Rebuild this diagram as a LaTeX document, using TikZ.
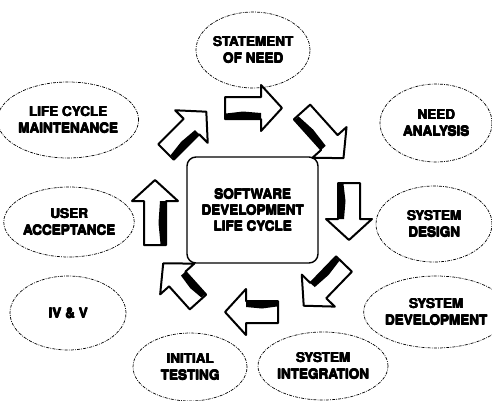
\documentclass[tikz,border=0pt]{standalone}
\usepackage{fontspec}
\usetikzlibrary{shapes.geometric}
\newfontfamily\heavy{TeX Gyre Heros}
% darken a line of bold lettering by overprinting it with small offsets
\newcommand\hv[1]{\leavevmode
  \rlap{\kern0.5pt#1}\rlap{\raise0.45pt\hbox{#1}}%
  \rlap{\kern0.5pt\raise0.45pt\hbox{#1}}#1}
\tikzset{
  phase/.style={ellipse, draw=black, line width=0.7pt,
    dash pattern=on 3pt off 1.2pt on 0.8pt off 1.2pt,
    inner sep=0pt, align=center,
    font=\heavy\bfseries\fontsize{13.5}{16.5}\selectfont},
  hub/.style={draw=black, line width=1.4pt, rounded corners=9pt,
    minimum width=131pt, minimum height=106pt, inner sep=0pt, align=center,
    font=\heavy\bfseries\fontsize{13.5}{16}\selectfont},
  pics/blockarrow/.style={code={
    \pgfmathsetmacro\shaftend{#1-21}
    \draw[fill=white, line width=2pt, line join=round]
      (0,-11) -- (\shaftend,-11) -- (\shaftend,-23) -- (#1,0)
      -- (\shaftend,23) -- (\shaftend,11) -- (0,11) -- cycle;
    \fill[black] (1,11) -- (\shaftend,11) -- (\shaftend,5)
      -- (0.5*\shaftend,3.5) -- (1,5.5) -- cycle;
  }}
}
\begin{document}
\begin{tikzpicture}[x=1pt, y=-1pt]
  \useasboundingbox (0,0) rectangle (492,400);

  % central box
  \node[hub] (sdlc) at (252.5,210) {\hv{SOFTWARE}\\\hv{DEVELOPMENT}\\\hv{LIFE CYCLE}};

  % phases around the cycle
  \node[phase, minimum width=114pt, minimum height=76pt] (need)   at (253,50)  {\hv{STATEMENT}\\\hv{OF NEED}};
  \node[phase, minimum width=112pt, minimum height=78pt] (anal)   at (436,123) {\hv{NEED}\\\hv{ANALYSIS}};
  \node[phase, minimum width=116pt, minimum height=76pt] (design) at (434,224) {\hv{SYSTEM}\\\hv{DESIGN}};
  \node[phase, minimum width=112pt, minimum height=72pt] (dev)    at (436,312) {\hv{SYSTEM}\\\hv{DEVELOPMENT}};
  \node[phase, minimum width=112pt, minimum height=68pt] (integ)  at (323,366) {\hv{SYSTEM}\\\hv{INTEGRATION}};
  \node[phase, minimum width=114pt, minimum height=68pt] (test)   at (190,367) {\hv{INITIAL}\\\hv{TESTING}};
  \node[phase, minimum width=116pt, minimum height=74pt] (ivv)    at (68,313)  {\hv{IV \& V}};
  \node[phase, minimum width=118pt, minimum height=70pt] (accept) at (69,222)  {\hv{USER}\\\hv{ACCEPTANCE}};
  \node[phase, minimum width=114pt, minimum height=76pt] (maint)  at (68,120)  {\hv{LIFE CYCLE}\\\hv{MAINTENANCE}};

  % block arrows running clockwise round the box
  % (the y axis points down, so a clockwise turn is a negative angle)
  \pic[rotate=0]    at (225,108) {blockarrow=57};
  \pic[rotate=-48]  at (302,112) {blockarrow=62};
  \pic[rotate=-90]  at (349,183) {blockarrow=57};
  \pic[rotate=-134] at (344,264) {blockarrow=58};
  \pic[rotate=-180] at (278,312) {blockarrow=53};
  \pic[rotate=-228] at (198,302) {blockarrow=52};
  \pic[rotate=-270] at (155,245) {blockarrow=65};
  \pic[rotate=-315] at (166,152) {blockarrow=57};
\end{tikzpicture}
\end{document}
